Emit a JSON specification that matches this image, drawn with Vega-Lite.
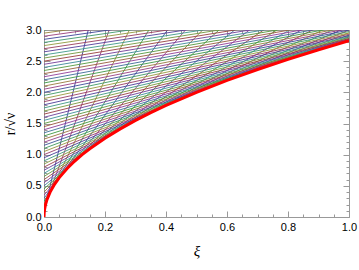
{
  "$schema": "https://vega.github.io/schema/vega-lite/v6.json",
  "width": 305,
  "height": 187,
  "autosize": {"type": "none"},
  "padding": {"left": 44, "top": 30, "right": 10, "bottom": 53},
  "background": "white",
  "config": {
    "view": {"stroke": null},
    "axis": {
      "domainColor": "#999999",
      "tickColor": "#999999",
      "labelFont": "Liberation Sans",
      "labelFontSize": 11,
      "labelColor": "#000000",
      "grid": false,
      "titleFont": "Liberation Serif",
      "titleFontWeight": "normal",
      "titleColor": "#000000",
      "labelOverlap": false,
      "labelFlush": false
    }
  },
  "datasets": {
    "chars": [
      {"k":1,"xi":0,"r":0.10},{"k":1,"xi":1,"r":20.1},
      {"k":2,"xi":0,"r":0.15},{"k":2,"xi":1,"r":13.4833},
      {"k":3,"xi":0,"r":0.20},{"k":3,"xi":1,"r":10.2},
      {"k":4,"xi":0,"r":0.25},{"k":4,"xi":1,"r":8.25},
      {"k":5,"xi":0,"r":0.30},{"k":5,"xi":1,"r":6.9667},
      {"k":6,"xi":0,"r":0.35},{"k":6,"xi":1,"r":6.0643},
      {"k":7,"xi":0,"r":0.40},{"k":7,"xi":1,"r":5.4},
      {"k":8,"xi":0,"r":0.45},{"k":8,"xi":1,"r":4.8944},
      {"k":9,"xi":0,"r":0.50},{"k":9,"xi":1,"r":4.5},
      {"k":10,"xi":0,"r":0.55},{"k":10,"xi":1,"r":4.1864},
      {"k":11,"xi":0,"r":0.60},{"k":11,"xi":1,"r":3.9333},
      {"k":12,"xi":0,"r":0.65},{"k":12,"xi":1,"r":3.7269},
      {"k":13,"xi":0,"r":0.70},{"k":13,"xi":1,"r":3.5571},
      {"k":14,"xi":0,"r":0.75},{"k":14,"xi":1,"r":3.4167},
      {"k":15,"xi":0,"r":0.80},{"k":15,"xi":1,"r":3.3},
      {"k":16,"xi":0,"r":0.85},{"k":16,"xi":1,"r":3.2029},
      {"k":17,"xi":0,"r":0.90},{"k":17,"xi":1,"r":3.1222},
      {"k":18,"xi":0,"r":0.95},{"k":18,"xi":1,"r":3.0553},
      {"k":19,"xi":0,"r":1.00},{"k":19,"xi":1,"r":3.0},
      {"k":20,"xi":0,"r":1.05},{"k":20,"xi":1,"r":2.9548},
      {"k":21,"xi":0,"r":1.10},{"k":21,"xi":1,"r":2.9182},
      {"k":22,"xi":0,"r":1.15},{"k":22,"xi":1,"r":2.8891},
      {"k":23,"xi":0,"r":1.20},{"k":23,"xi":1,"r":2.8667},
      {"k":24,"xi":0,"r":1.25},{"k":24,"xi":1,"r":2.85},
      {"k":25,"xi":0,"r":1.30},{"k":25,"xi":1,"r":2.8385},
      {"k":26,"xi":0,"r":1.35},{"k":26,"xi":1,"r":2.8315},
      {"k":27,"xi":0,"r":1.40},{"k":27,"xi":1,"r":2.8286},
      {"k":28,"xi":0,"r":1.45},{"k":28,"xi":1,"r":2.8293},
      {"k":29,"xi":0,"r":1.50},{"k":29,"xi":1,"r":2.8333},
      {"k":30,"xi":0,"r":1.55},{"k":30,"xi":1,"r":2.8403},
      {"k":31,"xi":0,"r":1.60},{"k":31,"xi":1,"r":2.85},
      {"k":32,"xi":0,"r":1.65},{"k":32,"xi":1,"r":2.8621},
      {"k":33,"xi":0,"r":1.70},{"k":33,"xi":1,"r":2.8765},
      {"k":34,"xi":0,"r":1.75},{"k":34,"xi":1,"r":2.8929},
      {"k":35,"xi":0,"r":1.80},{"k":35,"xi":1,"r":2.9111},
      {"k":36,"xi":0,"r":1.85},{"k":36,"xi":1,"r":2.9311},
      {"k":37,"xi":0,"r":1.90},{"k":37,"xi":1,"r":2.9526},
      {"k":38,"xi":0,"r":1.95},{"k":38,"xi":1,"r":2.9756},
      {"k":39,"xi":0,"r":2.00},{"k":39,"xi":1,"r":3.0},
      {"k":40,"xi":0,"r":2.05},{"k":40,"xi":1,"r":3.0256},
      {"k":41,"xi":0,"r":2.10},{"k":41,"xi":1,"r":3.0524},
      {"k":42,"xi":0,"r":2.15},{"k":42,"xi":1,"r":3.0802},
      {"k":43,"xi":0,"r":2.20},{"k":43,"xi":1,"r":3.1091},
      {"k":44,"xi":0,"r":2.25},{"k":44,"xi":1,"r":3.1389},
      {"k":45,"xi":0,"r":2.30},{"k":45,"xi":1,"r":3.1696},
      {"k":46,"xi":0,"r":2.35},{"k":46,"xi":1,"r":3.2011},
      {"k":47,"xi":0,"r":2.40},{"k":47,"xi":1,"r":3.2333},
      {"k":48,"xi":0,"r":2.45},{"k":48,"xi":1,"r":3.2663},
      {"k":49,"xi":0,"r":2.50},{"k":49,"xi":1,"r":3.3},
      {"k":50,"xi":0,"r":2.55},{"k":50,"xi":1,"r":3.3343},
      {"k":51,"xi":0,"r":2.60},{"k":51,"xi":1,"r":3.3692},
      {"k":52,"xi":0,"r":2.65},{"k":52,"xi":1,"r":3.4047},
      {"k":53,"xi":0,"r":2.70},{"k":53,"xi":1,"r":3.4407},
      {"k":54,"xi":0,"r":2.75},{"k":54,"xi":1,"r":3.4773},
      {"k":55,"xi":0,"r":2.80},{"k":55,"xi":1,"r":3.5143},
      {"k":56,"xi":0,"r":2.85},{"k":56,"xi":1,"r":3.5518},
      {"k":57,"xi":0,"r":2.90},{"k":57,"xi":1,"r":3.5897},
      {"k":58,"xi":0,"r":2.95},{"k":58,"xi":1,"r":3.6280},
      {"k":59,"xi":0,"r":3.00},{"k":59,"xi":1,"r":3.6667}
    ],
    "env": [
      {"xi":0,"r":0},{"xi":0.0005,"r":0.0632},{"xi":0.002,"r":0.1265},{"xi":0.005,"r":0.2},
      {"xi":0.01,"r":0.2828},{"xi":0.02,"r":0.4},{"xi":0.035,"r":0.5292},{"xi":0.05,"r":0.6325},
      {"xi":0.075,"r":0.7746},{"xi":0.1,"r":0.8944},{"xi":0.125,"r":1.0},{"xi":0.15,"r":1.0954},
      {"xi":0.2,"r":1.2649},{"xi":0.25,"r":1.4142},{"xi":0.3,"r":1.5492},{"xi":0.35,"r":1.6733},
      {"xi":0.4,"r":1.7889},{"xi":0.5,"r":2.0},{"xi":0.6,"r":2.1909},{"xi":0.7,"r":2.3664},
      {"xi":0.8,"r":2.5298},{"xi":0.9,"r":2.6833},{"xi":1.0,"r":2.8284}
    ]
  },
  "layer": [
    {
      "data": {"name": "chars"},
      "mark": {"type": "line", "clip": true, "strokeWidth": 0.9},
      "encoding": {
        "x": {
          "field": "xi", "type": "quantitative",
          "scale": {"domain": [0, 1], "nice": false, "zero": false},
          "axis": {
            "orient": "bottom",
            "values": [0,0.05,0.1,0.15,0.2,0.25,0.3,0.35,0.4,0.45,0.5,0.55,0.6,0.65,0.7,0.75,0.8,0.85,0.9,0.95,1],
            "labelExpr": "abs(datum.value*5-round(datum.value*5))<0.001 ? format(datum.value,'.1f') : ''",
            "tickSize": {"condition": {"test": "abs(datum.value*5-round(datum.value*5))<0.001", "value": -6}, "value": -3},
            "labelPadding": 10,
            "title": "ξ",
            "titleFontStyle": "italic",
            "titleFontSize": 15,
            "titlePadding": 8
          }
        },
        "y": {
          "field": "r", "type": "quantitative",
          "scale": {"domain": [0, 3], "nice": false, "zero": false},
          "axis": {
            "orient": "left",
            "values": [0,0.1,0.2,0.3,0.4,0.5,0.6,0.7,0.8,0.9,1,1.1,1.2,1.3,1.4,1.5,1.6,1.7,1.8,1.9,2,2.1,2.2,2.3,2.4,2.5,2.6,2.7,2.8,2.9,3],
            "labelExpr": "abs(datum.value*2-round(datum.value*2))<0.001 ? format(datum.value,'.1f') : ''",
            "tickSize": {"condition": {"test": "abs(datum.value*2-round(datum.value*2))<0.001", "value": -6}, "value": -3},
            "labelPadding": 9,
            "title": "r/√ν",
            "titleFontSize": 14,
            "titlePadding": 8
          }
        },
        "color": {
          "field": "k", "type": "ordinal", "legend": null,
          "scale": {"range": ["#3f3d99","#993d71","#998b3d","#3d9956","#3d5a99","#993d90","#996c3d","#43993d","#3d7899","#843d99","#994e3d","#62993d","#3d9799","#653d99","#993d4b","#81993d","#3d997c","#463d99","#993d6a","#99933d","#3d995d","#3d5399","#993d89","#99743d","#3d993e","#3d7299","#8b3d99","#99553d","#5a993d","#3d9099","#6c3d99","#993d44","#79993d","#3d9983","#4d3d99","#993d63","#98993d","#3d9964","#3d4c99","#993d81","#997b3d","#3d9945","#3d6b99","#923d99","#995c3d","#53993d","#3d8999","#733d99","#993e3d","#72993d","#3d998a","#543d99","#993d5b","#91993d","#3d996c","#3d4499","#993d7a","#99833d","#3d994d"]}
        }
      }
    },
    {
      "data": {"name": "env"},
      "mark": {"type": "line", "clip": true, "strokeWidth": 3, "color": "#ff0000"},
      "encoding": {
        "x": {
          "field": "xi", "type": "quantitative",
          "axis": {
            "orient": "top",
            "values": [0,0.05,0.1,0.15,0.2,0.25,0.3,0.35,0.4,0.45,0.5,0.55,0.6,0.65,0.7,0.75,0.8,0.85,0.9,0.95,1],
            "labels": false,
            "tickSize": {"condition": {"test": "abs(datum.value*5-round(datum.value*5))<0.001", "value": -6}, "value": -3},
            "title": null
          }
        },
        "y": {
          "field": "r", "type": "quantitative",
          "axis": {
            "orient": "right",
            "values": [0,0.1,0.2,0.3,0.4,0.5,0.6,0.7,0.8,0.9,1,1.1,1.2,1.3,1.4,1.5,1.6,1.7,1.8,1.9,2,2.1,2.2,2.3,2.4,2.5,2.6,2.7,2.8,2.9,3],
            "labels": false,
            "tickSize": {"condition": {"test": "abs(datum.value*2-round(datum.value*2))<0.001", "value": -6}, "value": -3},
            "title": null
          }
        }
      }
    }
  ],
  "resolve": {"axis": {"x": "independent", "y": "independent"}}
}
